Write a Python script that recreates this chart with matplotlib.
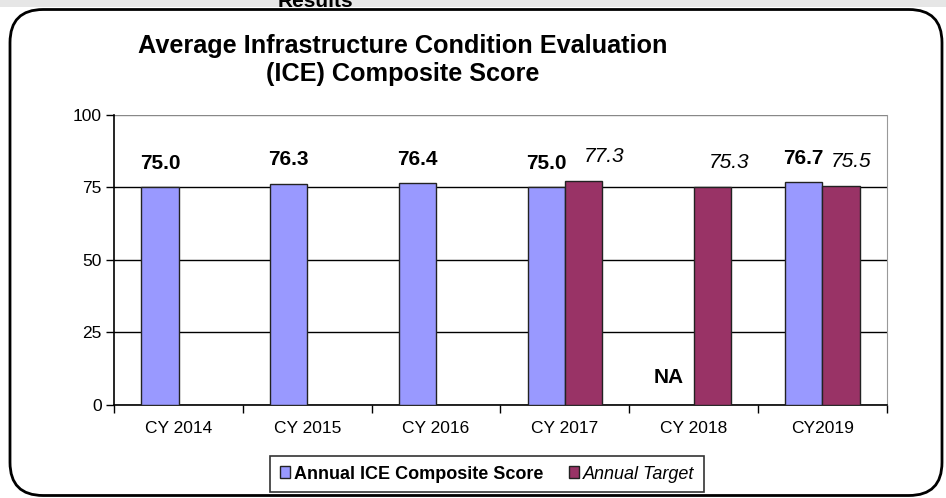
import numpy as np
import matplotlib
matplotlib.use("Agg")
import matplotlib.pyplot as plt
from matplotlib.patches import FancyBboxPatch, Rectangle, Patch

plt.rcParams['font.family'] = ['Liberation Sans', 'DejaVu Sans']

years = ['CY 2014', 'CY 2015', 'CY 2016', 'CY 2017', 'CY 2018', 'CY2019']
scores = [75.0, 76.3, 76.4, 75.0, np.nan, 76.7]
targets = [np.nan, np.nan, np.nan, 77.3, 75.3, 75.5]
score_color = '#9999FF'
target_color = '#993366'

fig = plt.figure(figsize=(9.46, 4.98), dpi=100)
fig.patch.set_facecolor('white')

# grey strip at the top with the cut-off heading
fig.patches.append(Rectangle((0, 1 - 7 / 498), 1, 7 / 498, transform=fig.transFigure,
                             facecolor='#e6e6e6', edgecolor='none', zorder=-3))
fig.text(0.333, 1 - 7 / 498, 'Results', ha='center', va='baseline', fontsize=15,
         fontweight='bold', zorder=-2)

# rounded frame around the chart
fig.patches.append(FancyBboxPatch((10 / 946, 2.5 / 498), 932 / 946, 486 / 498,
                                  boxstyle='round,pad=0,rounding_size=0.035',
                                  transform=fig.transFigure, facecolor='white',
                                  edgecolor='black', linewidth=2, zorder=-1,
                                  mutation_aspect=946 / 498))

ax = fig.add_axes([0.1208, 0.1873, 0.8165, 0.5818])
ax.patch.set_alpha(0)
x = np.arange(len(years))
w = 0.29
ax.bar(x - w / 2, scores, w, color=score_color, edgecolor='#222222', linewidth=1,
       label='Annual ICE Composite Score', zorder=3)
ax.bar(x + w / 2, targets, w, color=target_color, edgecolor='#222222', linewidth=1,
       label='Annual Target', zorder=3)

ax.set_xlim(-0.5, len(years) - 0.5)
ax.set_ylim(0, 100)
ax.set_yticks([0, 25, 50, 75, 100])
ax.yaxis.grid(True, color='black', linewidth=1, zorder=1)
ax.get_ygridlines()[-1].set_color('#888888')
ax.set_axisbelow(True)
ax.tick_params(axis='y', labelsize=12.5, length=6, width=1, pad=3)

ax.set_xticks(x)
ax.set_xticklabels(years, fontsize=12.5)
ax.set_xticks(np.arange(-0.5, len(years)), minor=True)
ax.tick_params(axis='x', which='major', length=0, pad=12)
ax.tick_params(axis='x', which='minor', length=6, width=1, direction='out')

ax.spines['top'].set_visible(False)
ax.spines['right'].set_color('#999999')
ax.spines['left'].set_linewidth(1.2)
ax.spines['bottom'].set_linewidth(1.2)

# value labels
for i, v in enumerate(scores):
    if np.isnan(v):
        ax.text(i - w / 2 - 0.05, 6, 'NA', ha='center', va='bottom', fontsize=15,
                fontweight='bold')
    else:
        ax.text(i - w / 2, v + 5, f'{v:.1f}', ha='center', va='bottom', fontsize=15,
                fontweight='bold')
target_dx = [0, 0, 0, 0.16, 0.13, 0.08]
for i, v in enumerate(targets):
    if not np.isnan(v):
        ax.text(i + w / 2 + target_dx[i], v + 5, f'{v:.1f}', ha='center', va='bottom',
                fontsize=15, fontstyle='italic')

fig.text(0.426, 0.932, 'Average Infrastructure Condition Evaluation\n(ICE) Composite Score',
         ha='center', va='top', fontsize=18.2, fontweight='bold', linespacing=1.2)

handles = [Patch(facecolor=score_color, edgecolor='#222222'),
           Patch(facecolor=target_color, edgecolor='#222222')]
leg = fig.legend(handles, ['Annual ICE Composite Score', 'Annual Target'],
                 loc='center', bbox_to_anchor=(487 / 946, 1 - 474 / 498), ncol=2,
                 frameon=True, fancybox=False, edgecolor='black', fontsize=13,
                 handlelength=0.6, handleheight=0.6, handletextpad=0.2,
                 columnspacing=1.4, borderpad=0.55)
leg.get_frame().set_linewidth(1.2)
txts = leg.get_texts()
txts[0].set_fontweight('bold')
txts[1].set_fontstyle('italic')

fig.savefig('out.png', dpi=100)
